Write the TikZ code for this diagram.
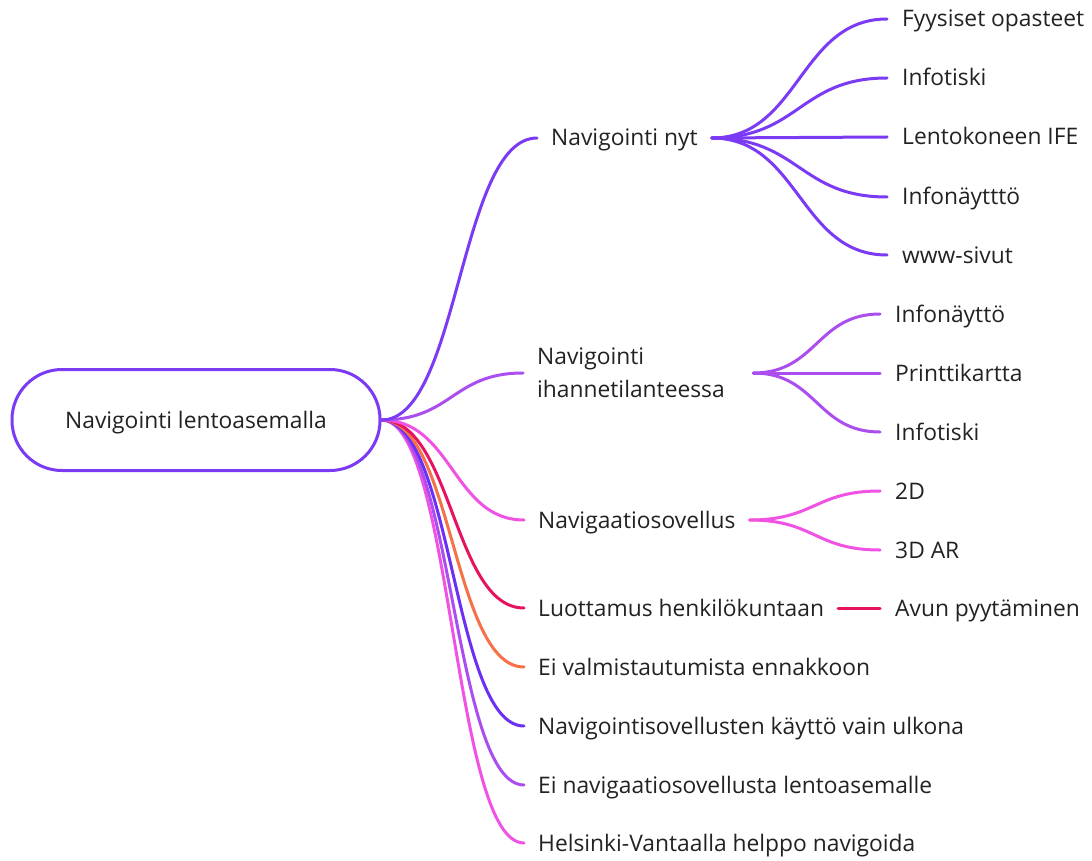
\documentclass[tikz,border=0pt]{standalone}
\usepackage{fontspec}
\setmainfont{Open Sans}
\definecolor{mmviolet}{RGB}{123,58,244}
\definecolor{mmdeep}{RGB}{108,48,245}
\definecolor{mmlilac}{RGB}{170,78,240}
\definecolor{mmpink}{RGB}{240,82,228}
\definecolor{mmred}{RGB}{230,20,96}
\definecolor{mmorange}{RGB}{246,112,72}
\definecolor{mmtext}{RGB}{34,34,34}
\usetikzlibrary{calc}

\begin{document}
\begin{tikzpicture}[
    x=1pt, y=-1pt,
    every node/.style={font=\fontsize{22.8}{33}\selectfont, text=mmtext},
    rootbox/.style={rectangle, draw=mmviolet, line width=3pt, fill=white, rounded corners=50pt, minimum width=368pt, minimum height=101pt, text height=16pt, text depth=0pt},
    topic/.style={anchor=west, inner xsep=14pt, inner ysep=0pt, align=left, text height=16pt, text depth=0pt},
    leaf/.style={anchor=west, inner xsep=15pt, inner ysep=0pt, text height=16pt, text depth=0pt},
    branch/.style={line width=3pt, line cap=round,
        to path={let \p1=(\tikztostart), \p2=(\tikztotarget) in
            .. controls ({(\x1+\x2)/2},\y1) and ({(\x1+\x2)/2},\y2) .. (\tikztotarget)}},
]
\useasboundingbox (0,0) rectangle (1092,861);

\node[rootbox] (root) at (196,420) {Navigointi lentoasemalla};

% first level
\node[topic] (nyt) at (537,138) {Navigointi nyt};
\node[topic, text width=202pt, text height=, text depth=] (ihanne) at (523,373) {Navigointi\\ihannetilanteessa};
\node[topic] (sovellus) at (524,520) {Navigaatiosovellus};
\node[topic] (luottamus) at (524,608) {Luottamus henkilökuntaan};
\node[topic] (valmis) at (524,667) {Ei valmistautumista ennakkoon};
\node[topic] (ulkona) at (524,726) {Navigointisovellusten käyttö vain ulkona};
\node[topic] (eisovellusta) at (524,785) {Ei navigaatiosovellusta lentoasemalle};
\node[topic] (helsinki) at (524,843) {Helsinki-Vantaalla helppo navigoida};

% leaves
\node[leaf] (opasteet) at (887,19) {Fyysiset opasteet};
\node[leaf] (infotiski) at (887,78) {Infotiski};
\node[leaf] (ife) at (887,137) {Lentokoneen IFE};
\node[leaf] (infonaytto) at (887,197) {Infonäytttö};
\node[leaf] (wwwsivut) at (887,255) {www-sivut};
\node[leaf] (infonaytto2) at (880,314) {Infonäyttö};
\node[leaf] (printti) at (880,373) {Printtikartta};
\node[leaf] (infotiski2) at (880,432) {Infotiski};
\node[leaf] (kaksid) at (880,491) {2D};
\node[leaf] (kolmed) at (880,550) {3D AR};
\node[leaf] (avun) at (880,608) {Avun pyytäminen};

\draw[branch, mmpink] (root.east) to (helsinki.west);
\draw[branch, mmlilac] (root.east) to (eisovellusta.west);
\draw[branch, mmdeep] (root.east) to (ulkona.west);
\draw[branch, mmorange] (root.east) to (valmis.west);
\draw[branch, mmred] (root.east) to (luottamus.west);
\draw[branch, mmpink] (root.east) to (sovellus.west);
\draw[branch, mmlilac] (root.east) to (ihanne.west);
\draw[branch, mmviolet] (root.east) to (nyt.west);

\draw[branch, mmviolet] (nyt.east) to (opasteet.west);
\draw[branch, mmviolet] (nyt.east) to (infotiski.west);
\draw[branch, mmviolet] (nyt.east) to (ife.west);
\draw[branch, mmviolet] (nyt.east) to (infonaytto.west);
\draw[branch, mmviolet] (nyt.east) to (wwwsivut.west);

\draw[branch, mmlilac] (ihanne.east) to (infonaytto2.west);
\draw[branch, mmlilac] (ihanne.east) to (printti.west);
\draw[branch, mmlilac] (ihanne.east) to (infotiski2.west);

\draw[branch, mmpink] (sovellus.east) to (kaksid.west);
\draw[branch, mmpink] (sovellus.east) to (kolmed.west);

\draw[branch, mmred] (luottamus.east) to (avun.west);

\end{tikzpicture}
\end{document}
